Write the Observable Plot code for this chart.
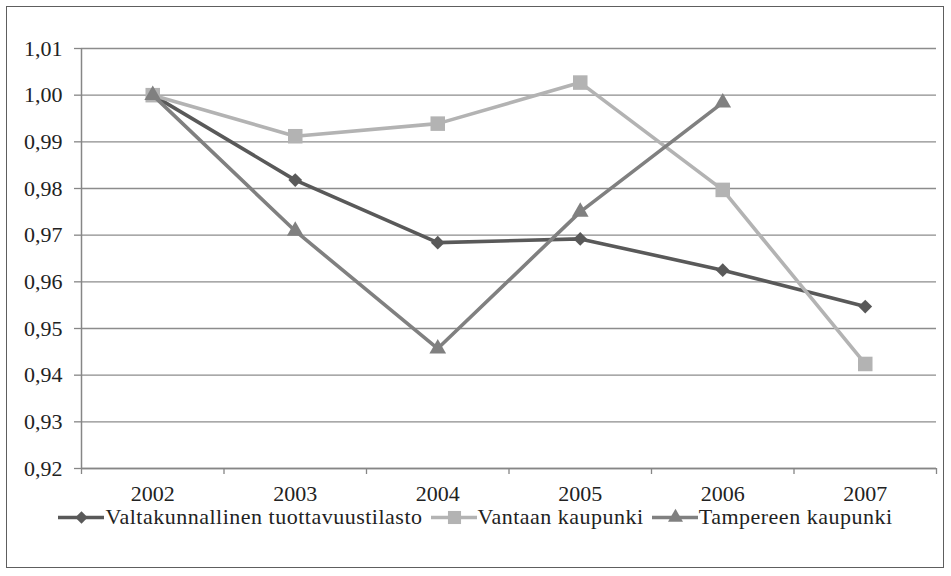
<!DOCTYPE html>
<html>
<head>
<meta charset="utf-8">
<script src="https://cdn.jsdelivr.net/npm/d3@7"></script>
<script src="https://cdn.jsdelivr.net/npm/@observablehq/plot@0.6"></script>
<style>
  html, body { margin: 0; padding: 0; background: #fff; }
  #wrap { position: relative; width: 951px; height: 576px; overflow: hidden; font-family: "Liberation Serif", serif; }
  #frame { position: absolute; left: 6px; top: 6px; width: 936px; height: 560px; border: 1.5px solid #5e5e5e; }
  #chart { position: absolute; left: 0; top: 0; }
  #legend { position: absolute; left: 0; top: 503px; width: 951px; height: 28px; display: flex; justify-content: center; align-items: center; font-size: 22px; line-height: 24px; letter-spacing: 0.5px; color: #222; }
  .item { display: flex; align-items: center; margin: 0 4px; white-space: nowrap; }
  .item svg { margin-right: 1px; }
</style>
</head>
<body>
<div id="wrap">
  <div id="frame"></div>
  <div id="chart"></div>
  <div id="legend"></div>
</div>
<script>
const years = [2002, 2003, 2004, 2005, 2006, 2007];
const seriesNames = ["Valtakunnallinen tuottavuustilasto", "Vantaan kaupunki", "Tampereen kaupunki"];
const valtakunnallinen = [1.000, 0.9818, 0.9684, 0.9692, 0.9625, 0.9547];
const vantaa = [1.000, 0.9912, 0.9939, 1.0027, 0.9797, 0.9424];
const tampere = [1.000, 0.9709, 0.9457, 0.9750, 0.9984, null];
const yTicks = [0.92, 0.93, 0.94, 0.95, 0.96, 0.97, 0.98, 0.99, 1.00, 1.01];
const xBoundaries = [2001.5, 2002.5, 2003.5, 2004.5, 2005.5, 2006.5, 2007.5];

const colors = ["#595959", "#b3b3b3", "#808080"];
const symbols = ["diamond2", "square", "triangle"];
const radii = [6.2, 8.2, 6.2];
const allValues = [valtakunnallinen, vantaa, tampere];

const data = [];
allValues.forEach((vals, si) => {
  vals.forEach((v, i) => { if (v != null) data.push({series: seriesNames[si], year: years[i], value: v}); });
});

const fmt = d => d3.format(".2f")(d).replace(".", ",");
const font = "'Liberation Serif', serif";

const marks = [
  Plot.gridY(yTicks, {stroke: "#8c8c8c", strokeOpacity: 1, strokeWidth: 1.3}),
  Plot.ruleX([2001.5], {stroke: "#868686", strokeWidth: 1.5}),
  Plot.ruleY([0.92], {stroke: "#868686", strokeWidth: 1.5}),
  Plot.axisY(yTicks, {label: null, tickSize: 7, tickPadding: 12, tickFormat: fmt, stroke: "#868686", strokeWidth: 1.3, fill: "#222", fontSize: 22, fontFamily: font}),
  Plot.axisX(xBoundaries, {label: null, tickSize: 6, tickFormat: () => "", stroke: "#868686", strokeWidth: 1.3}),
  Plot.axisX(years, {label: null, tickSize: 0, tickPadding: 17, tickFormat: d => String(d), fill: "#222", fontSize: 22, fontFamily: font})
];
seriesNames.forEach((name, si) => {
  const d = data.filter(r => r.series === name);
  marks.push(Plot.line(d, {x: "year", y: "value", stroke: colors[si], strokeWidth: 3.6}));
  marks.push(Plot.dot(d, {x: "year", y: "value", fill: colors[si], symbol: symbols[si], r: radii[si], stroke: "none"}));
});

const chart = Plot.plot({
  width: 951,
  height: 576,
  marginLeft: 81,
  marginRight: 15,
  marginTop: 48,
  marginBottom: 108,
  x: {type: "linear", domain: [2001.5, 2007.5], axis: null},
  y: {domain: [0.92, 1.01], axis: null},
  style: {background: "transparent", fontFamily: font},
  marks
});
document.getElementById("chart").appendChild(chart);

// legend
const legend = document.getElementById("legend");
seriesNames.forEach((name, si) => {
  const item = document.createElement("div");
  item.className = "item";
  const sw = Plot.plot({
    width: 46, height: 20, margin: 0,
    x: {domain: [0, 1], axis: null}, y: {domain: [0, 1], axis: null},
    style: {background: "transparent", overflow: "visible"},
    marks: [
      Plot.ruleY([0.5], {stroke: colors[si], strokeWidth: 3.6}),
      Plot.dot([[0.5, 0.5]], {fill: colors[si], symbol: symbols[si], r: radii[si] * 0.9, stroke: "none"})
    ]
  });
  item.appendChild(sw);
  const t = document.createElement("span");
  t.textContent = name;
  item.appendChild(t);
  legend.appendChild(item);
});
</script>
</body>
</html>
